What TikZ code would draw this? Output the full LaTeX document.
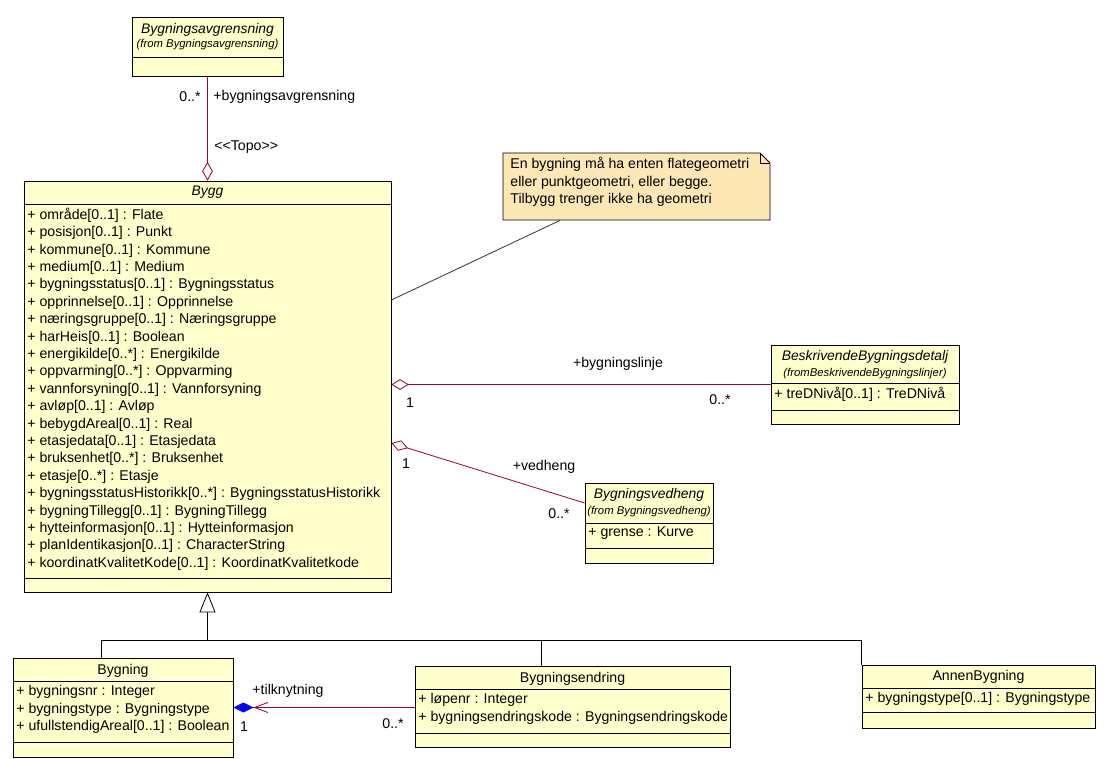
\documentclass[tikz,border=0pt]{standalone}
\usepackage{fontspec}
\setmainfont{Liberation Sans}
\usetikzlibrary{arrows.meta}
\definecolor{clsfill}{HTML}{FFFFCC}
\definecolor{notefill}{HTML}{FDE7B5}
\definecolor{assoc}{HTML}{990033}
\tikzset{>=latex}
\tikzset{
  cls/.style 2 args={draw, fill=clsfill, inner sep=0pt,
    minimum width=#1*0.75pt, minimum height=#2*0.75pt},
  txt/.style={inner sep=0pt, font=\fontsize{10.6}{13.05}\selectfont},
  ttl/.style={inner sep=0pt, font=\fontsize{10.4}{13.05}\selectfont\itshape},
  frm/.style={inner sep=0pt, font=\fontsize{8.5}{9}\selectfont\itshape},
  attr/.style={txt, align=left, anchor=west},
  rel/.style={draw=assoc, line width=0.6pt},
}

\begin{document}
\begin{tikzpicture}[x=0.75pt, y=-0.75pt, line width=0.6pt]
      \useasboundingbox (0,0) rectangle (1107,759);
      % Bygningsavgrensning
      \node (avgr) [cls={151}{59}] at (207.5,46.5) {};
      \draw (132,57) -- (283,57);
      \node (avgrname) [ttl] at (207.5,30) {Bygningsavgrensning};
      \node (avgrfrom) [frm] at (207.5,45) {(from Bygningsavgrensning)};
      % Bygg
      \node (bygg) [cls={367}{411}] at (207.5,386.5) {};
      \draw (24,204) -- (391,204);
      \draw (24,578) -- (391,578);
      \node (byggname) [ttl] at (207.5,192) {Bygg};
      \node (byggattr) [attr] at (27,389) {+ område[0..1] : Flate\\
        + posisjon[0..1] : Punkt\\
        + kommune[0..1] : Kommune\\
        + medium[0..1] : Medium\\
        + bygningsstatus[0..1] : Bygningsstatus\\
        + opprinnelse[0..1] : Opprinnelse\\
        + næringsgruppe[0..1] : Næringsgruppe\\
        + harHeis[0..1] : Boolean\\
        + energikilde[0..*] : Energikilde\\
        + oppvarming[0..*] : Oppvarming\\
        + vannforsyning[0..1] : Vannforsyning\\
        + avløp[0..1] : Avløp\\
        + bebygdAreal[0..1] : Real\\
        + etasjedata[0..1] : Etasjedata\\
        + bruksenhet[0..*] : Bruksenhet\\
        + etasje[0..*] : Etasje\\
        + bygningsstatusHistorikk[0..*] : BygningsstatusHistorikk\\
        + bygningTillegg[0..1] : BygningTillegg\\
        + hytteinformasjon[0..1] : Hytteinformasjon\\
        + planIdentikasjon[0..1] : CharacterString\\
        + koordinatKvalitetKode[0..1] : KoordinatKvalitetkode};
      % note
      \filldraw[fill=notefill] (503,153) -- (760,153) -- (770,163) -- (770,220) -- (503,220) -- cycle;
      \draw (760,153) -- (760,163) -- (770,163);
      \node (note) [minimum width=200.25pt, minimum height=50.25pt] at (636.5,186.5) {};
      \node (notetext) [txt, align=left, anchor=north west] at (510,157) {En bygning må ha enten flategeometri\\
        eller punktgeometri, eller begge.\\
        Tilbygg trenger ikke ha geometri};
      \draw[black!80] ([xshift=-57.375pt]note.south) -- ([yshift=64.875pt]bygg.east);
      % BeskrivendeBygningsdetalj
      \node (besk) [cls={188}{79}] at (865,384.5) {};
      \draw (771,383) -- (959,383);
      \draw (771,410) -- (959,410);
      \node (beskname) [ttl] at (865,357) {BeskrivendeBygningsdetalj};
      \node (beskfrom) [frm] at (865,374) {(fromBeskrivendeBygningslinjer)};
      \node (beskattr) [attr] at (774,394) {+ treDNivå[0..1] : TreDNivå};
      % Bygningsvedheng
      \node (vedh) [cls={128}{80}] at (649,523) {};
      \draw (585,523) -- (713,523);
      \draw (585,548) -- (713,548);
      \node (vedhname) [ttl] at (649,495) {Bygningsvedheng};
      \node (vedhfrom) [frm] at (649,512) {(from Bygningsvedheng)};
      \node (vedhattr) [attr] at (588,533) {+ grense : Kurve};
      % Bygning, Bygningsendring, AnnenBygning
      \node (bygning) [cls={220}{99}] at (123,707.5) {};
      \draw (13,681) -- (233,681);
      \draw (13,742) -- (233,742);
      \node (bygningname) [txt] at (123,671) {Bygning};
      \node (bygningattr) [attr] at (16,709.5) {+ bygningsnr : Integer\\
        + bygningstype : Bygningstype\\
        + ufullstendigAreal[0..1] : Boolean};
      \node (endr) [cls={315}{81}] at (572.5,706.5) {};
      \draw (415,689) -- (730,689);
      \draw (415,733) -- (730,733);
      \node (endrname) [txt] at (572.5,679) {Bygningsendring};
      \node (endrattr) [attr] at (418,709) {+ løpenr : Integer\\
        + bygningsendringskode : Bygningsendringskode};
      \node (annen) [cls={233}{63}] at (978.5,696.5) {};
      \draw (862,688) -- (1095,688);
      \draw (862,712) -- (1095,712);
      \node (annenname) [txt] at (978.5,677) {AnnenBygning};
      \node (annenattr) [attr] at (865,699) {+ bygningstype[0..1] : Bygningstype};
      % associations
      \draw[rel, -{Diamond[open, length=14pt, width=8pt]}] (avgr.south) -- (bygg.north);
      \node (avgrmult) [txt] at (190,97) {0..*};
      \node (avgrrole) [txt, anchor=west] at (213,97) {+bygningsavgrensning};
      \node (topo) [txt, anchor=west] at (214,147) {<\kern0pt<Topo>\kern0pt>};
      \draw[rel, {Diamond[open, length=13pt, width=8pt]}-] (bygg.east |- besk.west) -- (besk.west);
      \node (bl1) [txt] at (410,403) {1};
      \node (blrole) [txt] at (618,364) {+bygningslinje};
      \node (blmult) [txt] at (720,400) {0..*};
      \draw[rel, {Diamond[open, length=13pt, width=8pt]}-] ([yshift=-42.375pt]bygg.east) -- ([yshift=15pt]vedh.west);
      \node (vh1) [txt] at (406,464) {1};
      \node (vhrole) [txt] at (544,467) {+vedheng};
      \node (vhmult) [txt] at (559,514) {0..*};
      \draw[rel, -{Straight Barb[length=10pt, width=7.5pt] Diamond[fill=blue, color=blue, length=15pt, width=7.5pt]}] (endr.west |- bygning.east) -- (bygning.east);
      \node (tkrole) [txt] at (288,691) {+tilknytning};
      \node (tk1) [txt] at (244,727) {1};
      \node (tkmult) [txt] at (393,724) {0..*};
      % generalisation
      \coordinate (genjoin) at (207.5,640);
      \draw[-{Triangle[open, fill=white, length=15pt, width=12pt]}] (genjoin) -- (bygg.south);
      \draw ([xshift=-16.5pt]bygning.north) |- (genjoin);
      \draw ([xshift=-23.625pt]endr.north) |- (genjoin);
      \draw (annen.north west) |- (genjoin);
\end{tikzpicture}
\end{document}
